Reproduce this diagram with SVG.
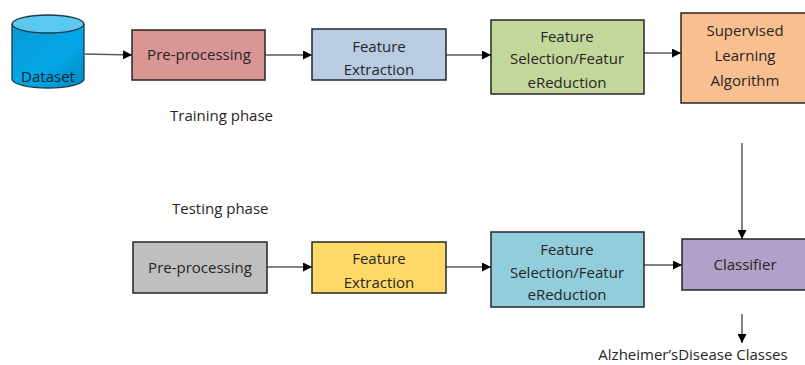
<svg xmlns="http://www.w3.org/2000/svg" width="805" height="365" viewBox="0 0 805 365">
  <defs>
    <marker id="arrow" viewBox="0 0 10 10" refX="10" refY="5" markerWidth="9" markerHeight="9" markerUnits="userSpaceOnUse" orient="auto">
      <path d="M0,0 L10,5 L0,10 z" fill="#000"/>
    </marker>
    <linearGradient id="cyl" x1="0" y1="0" x2="1" y2="1">
      <stop offset="0" stop-color="#0a9ad6"/>
      <stop offset="0.6" stop-color="#02a6e6"/>
      <stop offset="1" stop-color="#0088c4"/>
    </linearGradient>
    <style>
      .box { stroke: #262626; stroke-width: 1.5; }
      .t { font-family: "Open Sans", "Liberation Sans", sans-serif; font-size: 15px; fill: #262626; text-anchor: middle; dominant-baseline: central; }
      .lbl { font-family: "Open Sans", "Liberation Sans", sans-serif; font-size: 15px; fill: #262626; }
      .edge { stroke: #595959; stroke-width: 1.5; fill: none; marker-end: url(#arrow); }
    </style>
  </defs>
  <rect width="805" height="365" fill="#fff"/>

  <!-- connectors -->
  <g id="connectors">
    <line class="edge" x1="85" y1="54" x2="132" y2="55"/>
    <line class="edge" x1="265" y1="55" x2="312" y2="55"/>
    <line class="edge" x1="446" y1="55" x2="491" y2="55"/>
    <line class="edge" x1="644" y1="53" x2="681" y2="53"/>
    <line class="edge" x1="742" y1="143" x2="742" y2="239"/>
    <line class="edge" x1="267" y1="267" x2="312" y2="267"/>
    <line class="edge" x1="446" y1="267" x2="491" y2="267"/>
    <line class="edge" x1="644" y1="265" x2="682" y2="265"/>
    <line class="edge" x1="742" y1="314" x2="742" y2="343"/>
  </g>

  <!-- training pipeline -->
  <g id="dataset">
    <path d="M12,24 L12,79 A36,9 0 0 0 84,79 L84,24" fill="url(#cyl)" stroke="#1f3a4a" stroke-width="1.3"/>
    <ellipse cx="48" cy="24" rx="36" ry="9" fill="#5bc8f0" stroke="#1f3a4a" stroke-width="1.3"/>
    <text class="t" x="48" y="76" style="fill:#0f1f2a">Dataset</text>
  </g>
  <g id="train-preprocessing">
    <rect class="box" x="132" y="30" width="133" height="50" fill="#da9694"/>
    <text class="t" x="199" y="54">Pre-processing</text>
  </g>
  <g id="train-extraction">
    <rect class="box" x="312" y="29" width="134" height="51" fill="#b8cce4"/>
    <text class="t" x="379" y="46">Feature</text>
    <text class="t" x="379" y="69">Extraction</text>
  </g>
  <g id="train-selection">
    <rect class="box" x="491" y="20" width="153" height="74" fill="#c4d79b"/>
    <text class="t" x="567" y="36">Feature</text>
    <text class="t" x="567" y="58">Selection/Featur</text>
    <text class="t" x="567" y="82">eReduction</text>
  </g>
  <g id="supervised">
    <rect class="box" x="681" y="13" width="130" height="90" fill="#fabf8f"/>
    <text class="t" x="745" y="30">Supervised</text>
    <text class="t" x="745" y="55">Learning</text>
    <text class="t" x="745" y="80">Algorithm</text>
  </g>
  <text class="lbl" x="170" y="121">Training phase</text>

  <!-- testing pipeline -->
  <text class="lbl" x="172" y="214">Testing phase</text>
  <g id="test-preprocessing">
    <rect class="box" x="133" y="242" width="134" height="51" fill="#bfbfbf"/>
    <text class="t" x="200" y="267">Pre-processing</text>
  </g>
  <g id="test-extraction">
    <rect class="box" x="312" y="242" width="134" height="51" fill="#ffd966"/>
    <text class="t" x="379" y="258">Feature</text>
    <text class="t" x="379" y="282">Extraction</text>
  </g>
  <g id="test-selection">
    <rect class="box" x="491" y="232" width="153" height="75" fill="#92cddc"/>
    <text class="t" x="567" y="249">Feature</text>
    <text class="t" x="567" y="272">Selection/Featur</text>
    <text class="t" x="567" y="294">eReduction</text>
  </g>
  <g id="classifier">
    <rect class="box" x="682" y="239" width="130" height="51" fill="#b1a0c7"/>
    <text class="t" x="745" y="264">Classifier</text>
  </g>
  <text class="t" x="693" y="354">Alzheimer’sDisease Classes</text>
</svg>
